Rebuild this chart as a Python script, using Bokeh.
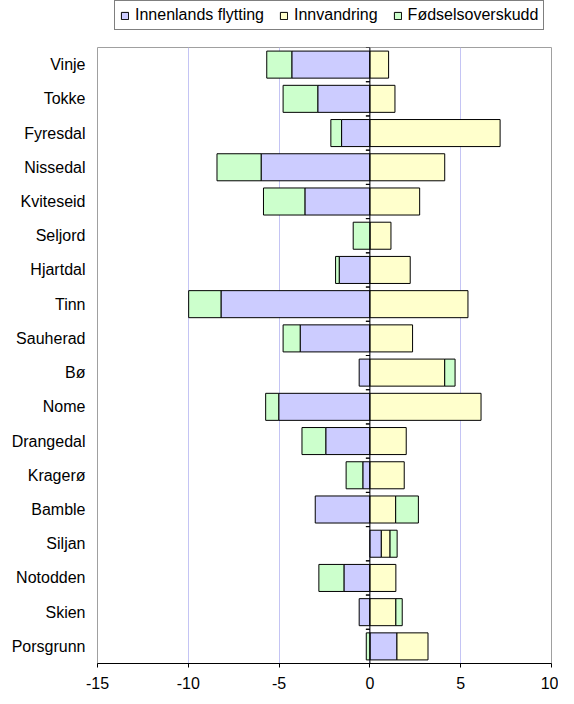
import numpy as np
from bokeh.plotting import figure
from bokeh.layouts import column
from bokeh.models import (FactorRange, Range1d, Span, Legend, LegendItem,
                          FixedTicker, ColumnDataSource)
from bokeh.transform import dodge
from bokeh.embed import file_html
from bokeh.resources import INLINE

categories = ["Vinje", "Tokke", "Fyresdal", "Nissedal", "Kviteseid", "Seljord",
              "Hjartdal", "Tinn", "Sauherad", "Bø", "Nome", "Drangedal",
              "Kragerø", "Bamble", "Siljan", "Notodden", "Skien", "Porsgrunn"]
innenlands = [-4.30, -2.87, -1.56, -5.99, -3.58, 0.0, -1.69, -8.20, -3.84, -0.59,
              -5.02, -2.43, -0.39, -3.01, 0.63, -1.43, -0.59, 1.49]
innvandring = [1.03, 1.38, 7.17, 4.12, 2.74, 1.16, 2.22, 5.40, 2.35, 4.12,
               6.12, 2.00, 1.89, 1.42, 0.48, 1.43, 1.43, 1.71]
fodsel = [-1.38, -1.91, -0.59, -2.43, -2.28, -0.92, -0.20, -1.78, -0.94, 0.57,
          -0.72, -1.31, -0.92, 1.25, 0.39, -1.38, 0.35, -0.20]
series_names = ["Innenlands flytting", "Innvandring", "Fødselsoverskudd"]
series_colors = ["#ccccff", "#ffffcc", "#ccffcc"]
x_ticks = [-15, -10, -5, 0, 5, 10]
x_tick_labels = ["-15", "-10", "-5", "0", "5", "10"]

FONT = "Liberation Sans"
W = 558
TOP_H = 46
MAIN_H = 650
FRAME_H = 616

# ---------- legend strip (top); its frame is aligned with the main frame ----------
pl = figure(width=W, height=TOP_H, output_backend="svg", toolbar_location=None,
            x_range=Range1d(0, 1), y_range=Range1d(0, 1),
            x_axis_location=None, y_axis_location=None,
            min_border=0, min_border_left=0, min_border_right=0,
            min_border_top=0, min_border_bottom=0)
pl.outline_line_color = None
pl.grid.grid_line_color = None
pl.background_fill_color = "white"
pl.border_fill_color = "white"
items = []
for name, col in zip(series_names, series_colors):
    # legend-key renderer only (no visible data in this strip)
    dummy = ColumnDataSource(dict(y=[0.5], left=[np.nan], right=[np.nan]))
    r = pl.hbar(y="y", left="left", right="right", height=0.5, source=dummy,
                fill_color=col, line_color="black", line_width=1)
    items.append(LegendItem(label=name, renderers=[r]))
legend = Legend(items=items, orientation="horizontal", location=(17, 16))
legend.label_text_font = FONT
legend.label_text_font_size = "16px"
legend.label_text_color = "black"
legend.glyph_width = 9
legend.glyph_height = 9
legend.label_standoff = 6
legend.spacing = 15
legend.padding = 5
legend.margin = 0
legend.border_line_color = "black"
legend.border_line_width = 1
legend.background_fill_color = "white"
legend.background_fill_alpha = 1
pl.add_layout(legend, "center")

# ---------- main chart ----------
p = figure(width=W, height=MAIN_H, output_backend="svg", toolbar_location=None,
           y_range=FactorRange(factors=list(reversed(categories))),
           x_range=Range1d(-15, 10),
           min_border_top=1, min_border_bottom=MAIN_H - 1 - FRAME_H, min_border_left=97,
           min_border_right=7)
p.background_fill_color = "white"
p.border_fill_color = "white"
p.outline_line_color = "#a0a0a0"
p.outline_line_width = 1

# Excel-style stacking: positives to the right, negatives to the left
pos_base = np.zeros(len(categories))
neg_base = np.zeros(len(categories))
for name, vals, col in zip(series_names, [innenlands, innvandring, fodsel], series_colors):
    v = np.array(vals, dtype=float)
    left = np.where(v >= 0, pos_base, neg_base + v)
    right = np.where(v >= 0, pos_base + v, neg_base)
    pos_base = pos_base + np.where(v >= 0, v, 0)
    neg_base = neg_base + np.where(v < 0, v, 0)
    src = ColumnDataSource(dict(y=categories, left=left, right=right))
    p.hbar(y="y", left="left", right="right", height=0.79, source=src,
           fill_color=col, line_color="black", line_width=1)

# grid
p.ygrid.grid_line_color = None
p.xgrid.grid_line_color = "#c4c4f4"
p.xgrid.grid_line_width = 1

# zero line with small category boundary ticks
zero = Span(location=0, dimension="height", line_color="black", line_width=1)
p.add_layout(zero)
tsrc = ColumnDataSource(dict(c=categories, x0=[-0.22] * len(categories), x1=[0] * len(categories)))
p.segment(x0="x0", x1="x1", y0=dodge("c", -0.5, range=p.y_range),
          y1=dodge("c", -0.5, range=p.y_range), source=tsrc,
          line_color="black", line_width=1)
p.segment(x0="x0", x1="x1", y0=dodge("c", 0.5, range=p.y_range),
          y1=dodge("c", 0.5, range=p.y_range), source=tsrc,
          line_color="black", line_width=1)

# axes
p.xaxis.ticker = FixedTicker(ticks=x_ticks)
p.xaxis.major_label_overrides = dict(zip(x_ticks, x_tick_labels))
p.xaxis.minor_tick_line_color = None
p.xaxis.axis_line_color = "black"
p.xaxis.major_tick_line_color = "black"
p.xaxis.major_tick_out = 4
p.xaxis.major_tick_in = 0
p.xaxis.major_label_standoff = 9
p.xaxis.major_label_text_font = FONT
p.xaxis.major_label_text_font_size = "16px"
p.xaxis.major_label_text_color = "black"

p.yaxis.axis_line_color = None
p.yaxis.major_tick_line_color = None
p.yaxis.minor_tick_line_color = None
p.yaxis.major_tick_out = 0
p.yaxis.major_tick_in = 0
p.yaxis.major_label_standoff = 12
p.yaxis.major_label_text_font = FONT
p.yaxis.major_label_text_font_size = "16px"
p.yaxis.major_label_text_color = "black"

# negative bottom margin cancels the page's bottom margin so the whole fits 704px
layout = column(pl, p, spacing=0, margin=(0, 0, -8, 0))
open("out.html", "w").write(file_html(layout, INLINE))
